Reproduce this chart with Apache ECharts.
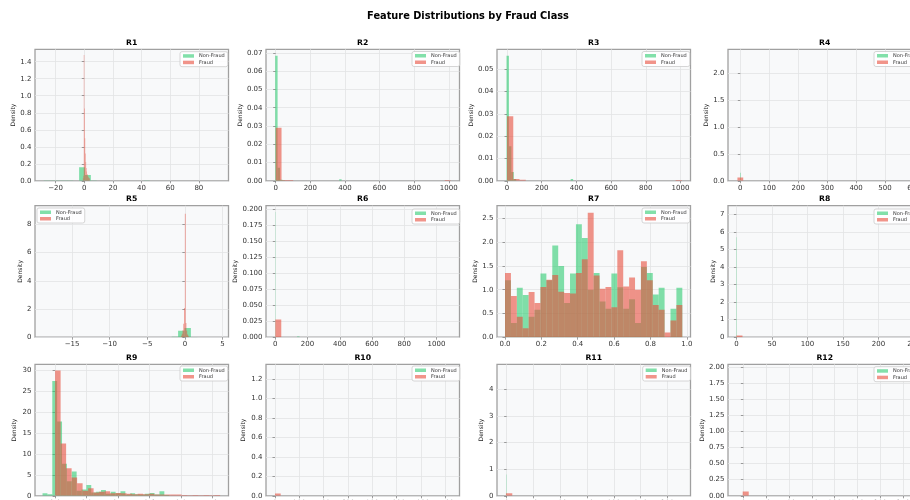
<!DOCTYPE html>
<html><head><meta charset="utf-8">
<script src="https://cdn.jsdelivr.net/npm/echarts@6/dist/echarts.min.js"></script>
<style>html,body{margin:0;padding:0;background:#fff}#c{width:910px;height:500px}</style>
</head><body><div id="c"></div>
<script>
// ---------------- DATA ----------------
const chartTitle = 'Feature Distributions by Fraud Class';
const features = ['R1','R2','R3','R4','R5','R6','R7','R8','R9','R10','R11','R12'];
const classNames = ['Non-Fraud','Fraud'];

// each bar: [binStart, binEnd, density]
const R1_nonFraud = [[-28.2,-24.1,0.003],[-24.1,-20,0.003],[-20,-15.9,0.003],[-15.9,-11.8,0.003],[-11.8,-7.7,0.003],[-7.7,-3.6,0.002],[-3.6,0.5,0.16],[0.5,4.6,0.068],[4.6,8.7,0.003],[8.7,12.8,0.002],[12.8,16.9,0.002],[25.1,29.2,0.002],[29.2,33.3,0.002],[33.3,37.4,0.002],[41.5,45.6,0.003],[45.6,49.7,0.002],[90.7,94.8,0.002]];
const R1_fraud = [[-0.96,-0.64,0.03],[-0.64,-0.32,0.06],[-0.32,0,1.48],[0,0.32,0.85],[0.32,0.64,0.5],[0.64,0.96,0.32],[0.96,1.28,0.22],[1.28,1.6,0.15],[1.6,1.92,0.11],[1.92,2.24,0.08],[2.24,2.56,0.06],[2.56,2.88,0.05],[2.88,3.2,0.04],[3.2,3.52,0.03],[3.52,3.84,0.03]];

const R2_nonFraud = [[-3,11,0.0685],[11,25,0.0072],[25,39,0.0006],[39,53,0.0003],[367,381,0.0008]];
const R2_fraud = [[0,33.7,0.029],[33.7,67.4,0.0005],[67.4,101,0.0005],[977,1010,0.0004]];

const R3_nonFraud = [[-3,11,0.0561],[11,25,0.0155],[25,39,0.004],[39,53,0.0008],[367,381,0.0008]];
const R3_fraud = [[0,36,0.029],[36,72,0.0008],[72,108,0.0005],[972,1008,0.0004]];

const R4_nonFraud = [[-1,1,0.15]];
const R4_fraud = [[-10,10,0.06]];

const R5_nonFraud = [[-1.75,-0.9,0.03],[-0.9,-0.05,0.45],[-0.05,0.8,0.66],[0.8,1.65,0.02]];
const R5_fraud = [[-0.5,-0.4,0.1],[-0.4,-0.3,0.25],[-0.3,-0.2,0.5],[-0.2,-0.1,0.95],[-0.1,0,2.07],[0,0.1,8.75],[0.1,0.2,1.0],[0.2,0.3,0.45],[0.3,0.4,0.2],[0.4,0.5,0.1]];

const R6_nonFraud = [[0,1.5,0.195],[135,150,0.0012]];
const R6_fraud = [[0,37,0.0275]];

const R7_binStarts = [0,0.0325,0.065,0.0975,0.13,0.1625,0.195,0.2275,0.26,0.2925,0.325,0.3575,0.39,0.4225,0.455,0.4875,0.52,0.5525,0.585,0.6175,0.65,0.6825,0.715,0.7475,0.78,0.8125,0.845,0.8775,0.91,0.9425];
const R7_binWidth = 0.0325;
const R7_nonFraudDensity = [1.2,0.3,1.04,0.89,0.43,0.58,1.34,1.2,1.93,1.5,0.72,1.34,2.38,2.09,1.0,1.35,0.75,0.6,1.34,1.05,0.6,0.8,0.3,1.48,1.35,0.9,1.04,0,0.6,1.04];
const R7_fraudDensity = [1.35,0.87,0.43,0.19,0.95,0.72,1.06,1.21,1.31,0.96,0.93,0.92,1.35,1.64,2.62,1.3,1.02,1.06,0.63,1.83,1.07,1.26,1.0,1.6,1.2,0.68,0.58,0.1,0.35,0.68];
const R7_nonFraud = R7_binStarts.map((s,i)=>[s, s+R7_binWidth, R7_nonFraudDensity[i]]);
const R7_fraud = R7_binStarts.map((s,i)=>[s, s+R7_binWidth, R7_fraudDensity[i]]);

const R8_nonFraud = [[0,0.5,5.7]];
const R8_fraud = [[0,8.6,0.1]];

const R9_nonFraud = [[-0.08,-0.049,0.6],[-0.049,-0.018,0.35],[-0.018,0.013,27.5],[0.013,0.044,17.8],[0.044,0.075,7.7],[0.075,0.106,3.5],[0.106,0.137,5.8],[0.137,0.168,1.2],[0.168,0.199,1.5],[0.199,0.23,2.6],[0.23,0.261,0.8],[0.261,0.292,1.0],[0.292,0.323,1.4],[0.323,0.354,0.5],[0.354,0.385,1.0],[0.385,0.416,0.6],[0.416,0.447,1.1],[0.447,0.478,0.3],[0.478,0.509,0.6],[0.509,0.54,0.4],[0.54,0.571,0.3],[0.571,0.602,0.5],[0.602,0.633,0.7],[0.633,0.664,0.3],[0.664,0.695,1.1],[0.695,0.726,0.2]];
const R9_fraud = [[0,0.035,30],[0.035,0.07,12.5],[0.07,0.105,6.6],[0.105,0.14,4.4],[0.14,0.175,3.0],[0.175,0.21,1.2],[0.21,0.245,1.8],[0.245,0.28,0.8],[0.28,0.315,1.0],[0.315,0.35,1.1],[0.35,0.385,0.6],[0.385,0.42,0.7],[0.42,0.455,0.6],[0.455,0.49,0.5],[0.49,0.525,0.4],[0.525,0.56,0.5],[0.56,0.595,0.4],[0.595,0.63,0.5],[0.63,0.665,0.3],[0.665,0.7,0.3],[0.7,0.735,0.3],[0.735,0.77,0.3],[0.77,0.805,0.3],[0.805,0.84,0.2],[0.84,0.875,0.15],[0.875,0.91,0.2],[0.91,0.945,0.15],[0.945,0.98,0.2],[0.98,1.015,0.15],[1.015,1.05,0.2]];

const R10_nonFraud = [];
const R10_fraud = [[0,47,0.024]];

const R11_nonFraud = [[0,0.6,0.8]];
const R11_fraud = [[-1.3,10.5,0.1]];

const R12_nonFraud = [];
const R12_fraud = [[-1.5,11.7,0.068]];

// tick labels
const R1_xTicks = ['−20','0','20','40','60','80'];
const R1_yTicks = ['0.0','0.2','0.4','0.6','0.8','1.0','1.2','1.4'];
const R2_xTicks = ['0','200','400','600','800','1000'];
const R2_yTicks = ['0.00','0.01','0.02','0.03','0.04','0.05','0.06','0.07'];
const R3_xTicks = ['0','200','400','600','800','1000'];
const R3_yTicks = ['0.00','0.01','0.02','0.03','0.04','0.05'];
const R4_xTicks = ['0','100','200','300','400','500','600'];
const R4_yTicks = ['0.0','0.5','1.0','1.5','2.0'];
const R5_xTicks = ['−15','−10','−5','0','5'];
const R5_yTicks = ['0','2','4','6','8'];
const R6_xTicks = ['0','200','400','600','800','1000'];
const R6_yTicks = ['0.000','0.025','0.050','0.075','0.100','0.125','0.150','0.175','0.200'];
const R7_xTicks = ['0.0','0.2','0.4','0.6','0.8','1.0'];
const R7_yTicks = ['0.0','0.5','1.0','1.5','2.0','2.5'];
const R8_xTicks = ['0','50','100','150','200','250'];
const R8_yTicks = ['0','1','2','3','4','5','6','7'];
const R9_xTicks = ['0.0','0.2','0.4','0.6','0.8','1.0'];
const R9_yTicks = ['0','5','10','15','20','25','30'];
const R10_xTicks = ['0','200','400','600','800','1000','1200','1400'];
const R10_yTicks = ['0.0','0.2','0.4','0.6','0.8','1.0','1.2'];
const R11_xTicks = ['0','50','100','150','200','250','300'];
const R11_yTicks = ['0','1','2','3','4'];
const R12_xTicks = ['0','50','100','150','200','250','300','350'];
const R12_yTicks = ['0.00','0.25','0.50','0.75','1.00','1.25','1.50','1.75','2.00'];

// ---------------- LAYOUT ----------------
const nonFraudSets = [R1_nonFraud,R2_nonFraud,R3_nonFraud,R4_nonFraud,R5_nonFraud,R6_nonFraud,R7_nonFraud,R8_nonFraud,R9_nonFraud,R10_nonFraud,R11_nonFraud,R12_nonFraud];
const fraudSets = [R1_fraud,R2_fraud,R3_fraud,R4_fraud,R5_fraud,R6_fraud,R7_fraud,R8_fraud,R9_fraud,R10_fraud,R11_fraud,R12_fraud];
const xTickSets = [R1_xTicks,R2_xTicks,R3_xTicks,R4_xTicks,R5_xTicks,R6_xTicks,R7_xTicks,R8_xTicks,R9_xTicks,R10_xTicks,R11_xTicks,R12_xTicks];
const yTickSets = [R1_yTicks,R2_yTicks,R3_yTicks,R4_yTicks,R5_yTicks,R6_yTicks,R7_yTicks,R8_yTicks,R9_yTicks,R10_yTicks,R11_yTicks,R12_yTicks];

const colLeft = [35, 266, 497, 728];
const rowTop = [49.3, 205.7, 364.3];
const plotW = 193.5, plotH = 131.5;
const layout = [
  {xMin:-34.4, xMax:100.7, yMax:1.546, lgX:180, lgY:51.7, ylX:13.3},
  {xMin:-56, xMax:1062, yMax:0.072, lgX:412, lgY:51.5, ylX:240},
  {xMin:-57.8, xMax:1057.8, yMax:0.059, lgX:642, lgY:51.5, ylX:471},
  {xMin:-42.6, xMax:626, yMax:2.45, lgX:874, lgY:51.5, ylX:706},
  {xMin:-19.92, xMax:5.8, yMax:9.32, lgX:37, lgY:208, ylX:20},
  {xMin:-57.7, xMax:1142.6, yMax:0.205, lgX:412, lgY:209, ylX:235},
  {xMin:-0.044, xMax:1.02, yMax:2.77, lgX:642, lgY:208, ylX:475},
  {xMin:-11.8, xMax:260.6, yMax:7.5, lgX:874, lgY:209, ylX:713},
  {xMin:-0.128, xMax:1.1035, yMax:31.5, lgX:180, lgY:366, ylX:14},
  {xMin:-74, xMax:1518, yMax:1.35, lgX:412, lgY:366, ylX:243},
  {xMin:-18, xMax:343, yMax:4.93, lgX:642.7, lgY:366, ylX:481.7},
  {xMin:-33.7, xMax:390, yMax:2.04, lgX:874, lgY:366.7, ylX:702}
];

const GREEN = '#2ecc71', RED = '#e74c3c';
const FONT = 'DejaVu Sans';
const toNum = s => parseFloat(s.replace('−','-'));
function labeler(ticks){
  return v => { for (const t of ticks) if (Math.abs(toNum(t)-v) < 1e-9*Math.max(1,Math.abs(v))+1e-12) return t; return ''; };
}
function barRenderer(color){
  return function(params, api){
    const a = api.coord([api.value(0), 0]);
    const b = api.coord([api.value(1), api.value(2)]);
    return {type:'rect', shape:{x:a[0], y:b[1], width:b[0]-a[0], height:a[1]-b[1]},
            style:{fill:color, opacity:0.6}};
  };
}

const grids=[], xAxes=[], yAxes=[], series=[], legends=[], graphics=[];
graphics.push({type:'text', x:468, y:16, style:{text:chartTitle, font:'bold 9.8px "DejaVu Sans"', fill:'#000', textAlign:'center', textVerticalAlign:'middle'}});

features.forEach((name,i)=>{
  const L = layout[i];
  const left = colLeft[i%4], top = rowTop[Math.floor(i/4)];
  grids.push({left:left, top:top, width:plotW, height:plotH, show:true, backgroundColor:'#f8f9fa', borderColor:'#a0a0a0', borderWidth:1.3,
    containLabel:false, outerBoundsMode:'none'});
  const xt = xTickSets[i].map(toNum), yt = yTickSets[i].map(toNum);
  const common = {
    axisLine:{show:false},
    splitLine:{show:true, lineStyle:{color:'#e2e3e5', width:0.8}},
  };
  xAxes.push(Object.assign({gridIndex:i, type:'value', min:L.xMin, max:L.xMax,
    axisTick:{show:true, length:2.5, lineStyle:{color:'#777', width:0.7}, customValues:xt},
    axisLabel:{customValues:xt, formatter:labeler(xTickSets[i]), fontSize:7, color:'#333', margin:3.5, fontFamily:FONT, hideOverlap:false}}, common));
  yAxes.push(Object.assign({gridIndex:i, type:'value', min:0, max:L.yMax,
    axisTick:{show:true, length:2.5, lineStyle:{color:'#777', width:0.7}, customValues:yt},
    axisLabel:{customValues:yt, formatter:labeler(yTickSets[i]), fontSize:7, color:'#333', margin:3.5, fontFamily:FONT, hideOverlap:false}}, common));
  series.push({type:'custom', name:classNames[0], xAxisIndex:i, yAxisIndex:i, data:nonFraudSets[i], encode:{x:[0,1], y:2},
    clip:true, renderItem:barRenderer(GREEN), itemStyle:{color:GREEN}, silent:true});
  series.push({type:'custom', name:classNames[1], xAxisIndex:i, yAxisIndex:i, data:fraudSets[i], encode:{x:[0,1], y:2},
    clip:true, renderItem:barRenderer(RED), itemStyle:{color:RED}, silent:true});
  legends.push({left:L.lgX, top:L.lgY, orient:'vertical', icon:'rect', itemWidth:11, itemHeight:3.5, itemGap:1,
    padding:[1.5,3,1.5,3], backgroundColor:'rgba(255,255,255,0.85)', borderColor:'#cccccc', borderWidth:0.8, borderRadius:2,
    selectedMode:false,
    textStyle:{fontSize:5, color:'#333', fontFamily:FONT, lineHeight:5.5},
    data:[{name:classNames[0], itemStyle:{color:'rgba(46,204,113,0.6)'}},{name:classNames[1], itemStyle:{color:'rgba(231,76,60,0.6)'}}]});
  graphics.push({type:'text', x:left+plotW/2, y:top-6.3, style:{text:name, font:'bold 7.7px "DejaVu Sans"', fill:'#000', textAlign:'center', textVerticalAlign:'middle'}});
  graphics.push({type:'text', x:L.ylX, y:top+plotH/2, rotation:Math.PI/2, style:{text:'Density', font:'6px "DejaVu Sans"', fill:'#222', textAlign:'center', textVerticalAlign:'middle'}});
});

const chart = echarts.init(document.getElementById('c'), null, {renderer:'canvas'});
chart.setOption({
  animation:false,
  backgroundColor:'#ffffff',
  textStyle:{fontFamily:FONT},
  grid:grids, xAxis:xAxes, yAxis:yAxes, series:series, legend:legends, graphic:graphics
});
</script></body></html>
